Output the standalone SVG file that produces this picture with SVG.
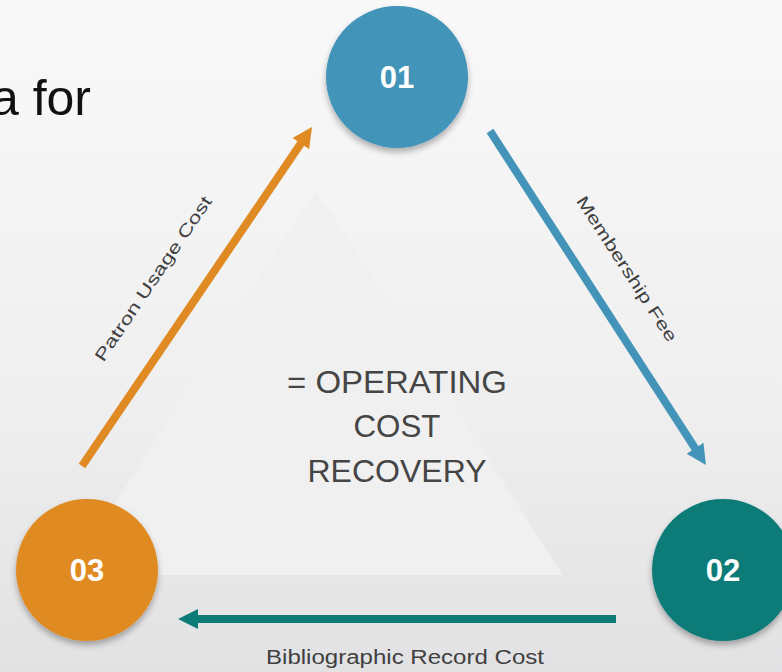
<svg xmlns="http://www.w3.org/2000/svg" width="782" height="672" viewBox="0 0 782 672">
<defs>
<linearGradient id="bg" x1="0" y1="0" x2="0" y2="1">
<stop offset="0" stop-color="#f9f9f9"/>
<stop offset="0.6" stop-color="#efeff0"/>
<stop offset="1" stop-color="#e2e2e4"/>
</linearGradient>
<filter id="sh" x="-30%" y="-30%" width="160%" height="170%">
<feDropShadow dx="0" dy="4" stdDeviation="3" flood-color="#000" flood-opacity="0.3"/>
</filter>
<marker id="ahO" viewBox="0 0 10 10" refX="5" refY="5" markerWidth="2.5" markerHeight="3.9" orient="auto" markerUnits="strokeWidth">
<path d="M0,0 L10,5 L0,10 Z" fill="#e08a23"/>
</marker>
<marker id="ahB" viewBox="0 0 10 10" refX="5" refY="5" markerWidth="2.5" markerHeight="3.9" orient="auto" markerUnits="strokeWidth">
<path d="M0,0 L10,5 L0,10 Z" fill="#4394b8"/>
</marker>
<marker id="ahT" viewBox="0 0 10 10" refX="5" refY="5" markerWidth="2.5" markerHeight="3.9" orient="auto" markerUnits="strokeWidth">
<path d="M0,0 L10,5 L0,10 Z" fill="#0d7b78"/>
</marker>
</defs>
<style>
.lbl{font-family:"Liberation Sans","DejaVu Sans",sans-serif;fill:#404040;}
.num{font-family:"Liberation Sans","DejaVu Sans",sans-serif;font-weight:bold;fill:#ffffff;font-size:31px;text-anchor:middle;}
.ctr{font-family:"Liberation Sans","DejaVu Sans",sans-serif;fill:#454545;font-size:31px;text-anchor:middle;}
.conn{fill:none;stroke-width:8;}
</style>
<rect x="0" y="0" width="782" height="672" fill="url(#bg)"/>
<polygon points="316,190 563,575 69,575" fill="#f0f0f0"/>
<text x="91" y="115" font-family="'Liberation Sans','DejaVu Sans',sans-serif" font-size="50" fill="#111" text-anchor="end">a for</text>
<g id="center-label">
<text class="ctr" x="397" y="393" textLength="220" lengthAdjust="spacingAndGlyphs">= OPERATING</text>
<text class="ctr" x="397" y="437" textLength="87" lengthAdjust="spacingAndGlyphs">COST</text>
<text class="ctr" x="397" y="482" textLength="179" lengthAdjust="spacingAndGlyphs">RECOVERY</text>
</g>
<g id="connectors">
<line class="conn" x1="82" y1="466" x2="306.4" y2="135.3" stroke="#e08a23" marker-end="url(#ahO)"/>
<line class="conn" x1="490" y1="131" x2="700.5" y2="456.6" stroke="#4394b8" marker-end="url(#ahB)"/>
<line class="conn" x1="616" y1="619" x2="188" y2="619" stroke="#0d7b78" marker-end="url(#ahT)"/>
<text class="lbl" font-size="17" text-anchor="middle" transform="translate(158,282) rotate(-56)" textLength="195" lengthAdjust="spacingAndGlyphs">Patron Usage Cost</text>
<text class="lbl" font-size="17" text-anchor="middle" transform="translate(622,272) rotate(57)" textLength="170" lengthAdjust="spacingAndGlyphs">Membership Fee</text>
<text class="lbl" font-size="20" text-anchor="middle" x="405" y="664" textLength="278" lengthAdjust="spacingAndGlyphs">Bibliographic Record Cost</text>
</g>
<g id="node-01">
<circle cx="397" cy="77" r="71" fill="#4394b8" filter="url(#sh)"/>
<text class="num" x="397" y="88">01</text>
</g>
<g id="node-02">
<circle cx="723" cy="570" r="71" fill="#0d7b78" filter="url(#sh)"/>
<text class="num" x="723" y="581">02</text>
</g>
<g id="node-03">
<circle cx="87" cy="570" r="71" fill="#e08a23" filter="url(#sh)"/>
<text class="num" x="87" y="581">03</text>
</g>
</svg>
